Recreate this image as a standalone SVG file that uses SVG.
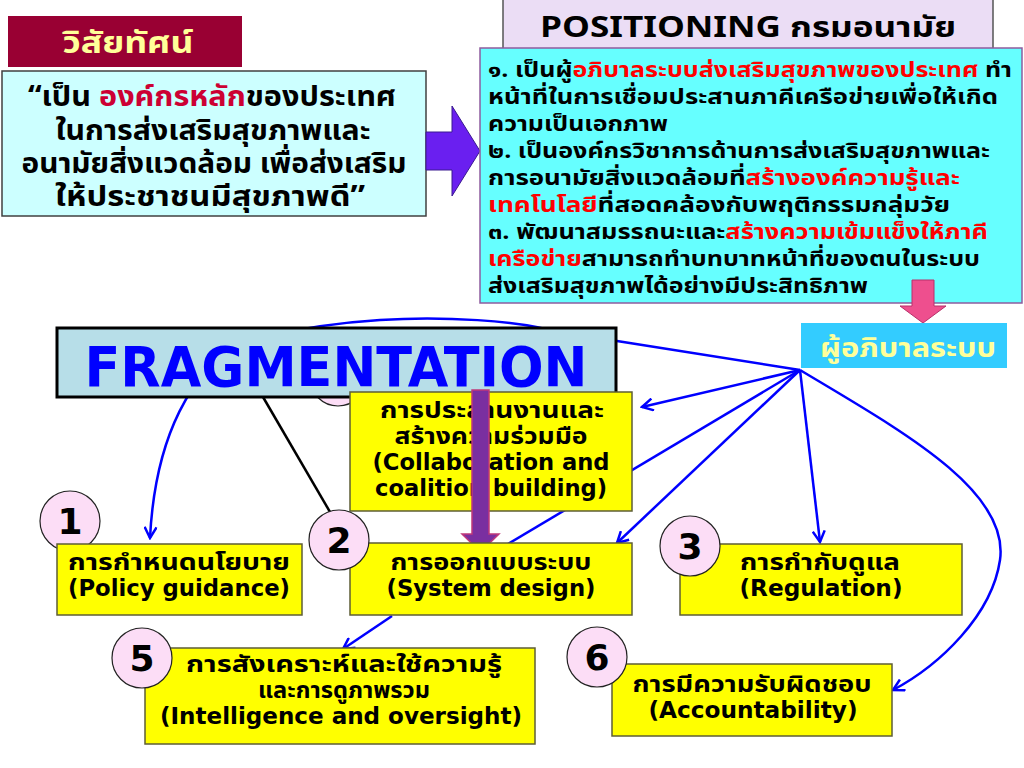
<svg xmlns="http://www.w3.org/2000/svg" width="1024" height="768" viewBox="0 0 1024 768">
<defs>
<style>
.th{font-family:Tahoma,"Noto Sans Thai","Noto Sans","DejaVu Sans",sans-serif;font-weight:bold}
.en{font-family:Tahoma,"DejaVu Sans Condensed","DejaVu Sans",sans-serif;font-weight:bold;font-stretch:condensed}
.ybox{fill:#FFFF00;stroke:#5E5E36;stroke-width:1.5}
.circ{fill:#FCDDF6;stroke:#222;stroke-width:1.2}
.num{font-family:Tahoma,"DejaVu Sans",sans-serif;font-weight:bold;font-size:36px;fill:#000;text-anchor:middle}
.nt{font-size:23px;fill:#000;text-anchor:middle}
.red{fill:#FF0000}
.conn{fill:none;stroke:#0000FF;stroke-width:2.5}
</style>
<marker id="ah" viewBox="0 0 14 14" refX="12" refY="7" markerWidth="14" markerHeight="14" markerUnits="userSpaceOnUse" orient="auto">
<path d="M1,1 L12,7 L1,13" fill="none" stroke="#0000FF" stroke-width="2.5"/>
</marker>
</defs>
<rect width="1024" height="768" fill="#FFFFFF"/>

<g id="vision-title">
<rect x="8" y="16" width="234" height="51" fill="#990033"/>
<text x="128" y="53" class="th" font-size="30" fill="#FFFF99" text-anchor="middle" textLength="131" lengthAdjust="spacingAndGlyphs">วิสัยทัศน์</text>
</g>

<g id="vision">
<rect x="2" y="71" width="424" height="145" fill="#CCFFFF" stroke="#404040" stroke-width="1.5"/>
<g class="th" font-size="28" fill="#000" text-anchor="middle">
<text x="212" y="106" textLength="368" lengthAdjust="spacingAndGlyphs">“เป็น <tspan fill="#CC0033">องค์กรหลัก</tspan>ของประเทศ</text>
<text x="213" y="140" textLength="315" lengthAdjust="spacingAndGlyphs">ในการส่งเสริมสุขภาพและ</text>
<text x="214" y="173" textLength="385" lengthAdjust="spacingAndGlyphs">อนามัยสิ่งแวดล้อม เพื่อส่งเสริม</text>
<text x="210" y="206" textLength="310" lengthAdjust="spacingAndGlyphs">ให้ประชาชนมีสุขภาพดี”</text>
</g>
</g>

<g id="vision-arrow">
<polygon points="426,132 452,132 452,106 480,151 452,196 452,170 426,170" fill="#6A1FF0" stroke="#3A1A90" stroke-width="1"/>
</g>

<g id="positioning-title">
<rect x="503" y="-2" width="490" height="54" fill="#EBDDF5" stroke="#555" stroke-width="1.5"/>
<text x="748" y="37" class="th" font-size="29" fill="#000" text-anchor="middle" textLength="416" lengthAdjust="spacingAndGlyphs">POSITIONING กรมอนามัย</text>
</g>

<g id="positioning">
<rect x="480" y="48" width="542" height="255" fill="#66FFFF" stroke="#8E5C9E" stroke-width="1.5"/>
<g class="th" font-size="21" fill="#000">
<text x="488" y="77" textLength="524" lengthAdjust="spacingAndGlyphs">๑. เป็นผู้<tspan class="red">อภิบาลระบบส่งเสริมสุขภาพของประเทศ</tspan> ทำ</text>
<text x="488" y="104" textLength="510" lengthAdjust="spacingAndGlyphs">หน้าที่ในการเชื่อมประสานภาคีเครือข่ายเพื่อให้เกิด</text>
<text x="488" y="131" textLength="180" lengthAdjust="spacingAndGlyphs">ความเป็นเอกภาพ</text>
<text x="488" y="158" textLength="502" lengthAdjust="spacingAndGlyphs">๒. เป็นองค์กรวิชาการด้านการส่งเสริมสุขภาพและ</text>
<text x="488" y="185" textLength="472" lengthAdjust="spacingAndGlyphs">การอนามัยสิ่งแวดล้อมที่<tspan class="red">สร้างองค์ความรู้และ</tspan></text>
<text x="488" y="212" textLength="462" lengthAdjust="spacingAndGlyphs"><tspan class="red">เทคโนโลยี</tspan>ที่สอดคล้องกับพฤติกรรมกลุ่มวัย</text>
<text x="488" y="239" textLength="500" lengthAdjust="spacingAndGlyphs">๓. พัฒนาสมรรถนะและ<tspan class="red">สร้างความเข้มแข็งให้ภาคี</tspan></text>
<text x="488" y="266" textLength="492" lengthAdjust="spacingAndGlyphs"><tspan class="red">เครือข่าย</tspan>สามารถทำบทบาทหน้าที่ของตนในระบบ</text>
<text x="488" y="293" textLength="380" lengthAdjust="spacingAndGlyphs">ส่งเสริมสุขภาพได้อย่างมีประสิทธิภาพ</text>
</g>
</g>

<g id="pink-arrow">
<polygon points="912,280 934,280 934,306 946,306 923,323 900,306 912,306" fill="#EE4F8E" stroke="#B8306A" stroke-width="1"/>
</g>

<g id="steward">
<rect x="801" y="323" width="206" height="45" fill="#33CCFF"/>
<text x="908" y="357" class="th" font-size="26" fill="#FFFF99" text-anchor="middle" textLength="176" lengthAdjust="spacingAndGlyphs">ผู้อภิบาลระบบ</text>
</g>

<g id="connectors">
<path class="conn" d="M800,370 L617,341 L560,333 C520,320 440,316 380,320 C330,323 290,330 250,340 C190,365 155,440 150,538" marker-end="url(#ah)"/>
<line class="conn" x1="800" y1="370" x2="642" y2="407" marker-end="url(#ah)"/>
<line class="conn" x1="800" y1="370" x2="508" y2="544"/>
<line class="conn" x1="800" y1="370" x2="617" y2="543" marker-end="url(#ah)"/>
<line class="conn" x1="800" y1="370" x2="820" y2="542" marker-end="url(#ah)"/>
<path class="conn" d="M800,370 C900,430 1010,490 1000,560 C992,615 940,665 893,690" marker-end="url(#ah)"/>
<line class="conn" x1="392" y1="616" x2="343" y2="649" marker-end="url(#ah)"/>
<line x1="263" y1="397" x2="330" y2="512" stroke="#000" stroke-width="2.5"/>
</g>

<g id="node4">
<circle class="circ" cx="338" cy="378" r="28"/>
</g>

<g id="fragmentation">
<rect x="57" y="328" width="559" height="69" fill="#B7DEE8" stroke="#000" stroke-width="3"/>
<text x="336" y="386" class="en" font-size="56" fill="#0000FF" text-anchor="middle" textLength="503" lengthAdjust="spacingAndGlyphs">FRAGMENTATION</text>
</g>

<g id="collaboration">
<rect class="ybox" x="350" y="392" width="282" height="119"/>
<text class="th nt" x="492" y="418" textLength="224" lengthAdjust="spacingAndGlyphs">การประสานงานและ</text>
<text class="th nt" x="491" y="444" textLength="193" lengthAdjust="spacingAndGlyphs">สร้างความร่วมมือ</text>
<text class="en nt" x="491" y="470" textLength="237" lengthAdjust="spacingAndGlyphs">(Collaboration and</text>
<text class="en nt" x="491" y="496" textLength="232" lengthAdjust="spacingAndGlyphs">coalition building)</text>
</g>

<g id="design-arrow">
<polygon points="472,390 489,390 489,534 499,534 480.5,552 462,534 472,534" fill="#7A2FA0" stroke="#C0397A" stroke-width="1.5"/>
</g>

<g id="node1">
<circle class="circ" cx="70" cy="521" r="30"/>
<text class="num" x="70" y="534">1</text>
<rect class="ybox" x="57" y="544" width="245" height="71"/>
<text class="th nt" x="179" y="570" textLength="222" lengthAdjust="spacingAndGlyphs">การกำหนดนโยบาย</text>
<text class="en nt" x="179" y="596" textLength="222" lengthAdjust="spacingAndGlyphs">(Policy guidance)</text>
</g>

<g id="node2">
<rect class="ybox" x="350" y="543" width="282" height="72"/>
<circle class="circ" cx="339" cy="540" r="30"/>
<text class="num" x="339" y="553">2</text>
<text class="th nt" x="491" y="570" textLength="201" lengthAdjust="spacingAndGlyphs">การออกแบบระบบ</text>
<text class="en nt" x="491" y="596" textLength="209" lengthAdjust="spacingAndGlyphs">(System design)</text>
</g>

<g id="node3">
<rect class="ybox" x="680" y="544" width="282" height="71"/>
<circle class="circ" cx="690" cy="546" r="30"/>
<text class="num" x="690" y="559">3</text>
<text class="th nt" x="820" y="570" textLength="160" lengthAdjust="spacingAndGlyphs">การกำกับดูแล</text>
<text class="en nt" x="821" y="596" textLength="163" lengthAdjust="spacingAndGlyphs">(Regulation)</text>
</g>

<g id="node5">
<rect class="ybox" x="145" y="648" width="390" height="96"/>
<circle class="circ" cx="142" cy="658" r="30"/>
<text class="num" x="142" y="671">5</text>
<text class="th nt" x="344" y="672" textLength="316" lengthAdjust="spacingAndGlyphs">การสังเคราะห์และใช้ความรู้</text>
<text class="th nt" x="344" y="698" textLength="172" lengthAdjust="spacingAndGlyphs">และการดูภาพรวม</text>
<text class="en nt" x="341" y="724" textLength="362" lengthAdjust="spacingAndGlyphs">(Intelligence and oversight)</text>
</g>

<g id="node6">
<rect class="ybox" x="612" y="664" width="280" height="72"/>
<circle class="circ" cx="597" cy="657" r="30"/>
<text class="num" x="597" y="670">6</text>
<text class="th nt" x="752" y="692" textLength="239" lengthAdjust="spacingAndGlyphs">การมีความรับผิดชอบ</text>
<text class="en nt" x="753" y="718" textLength="209" lengthAdjust="spacingAndGlyphs">(Accountability)</text>
</g>
</svg>
